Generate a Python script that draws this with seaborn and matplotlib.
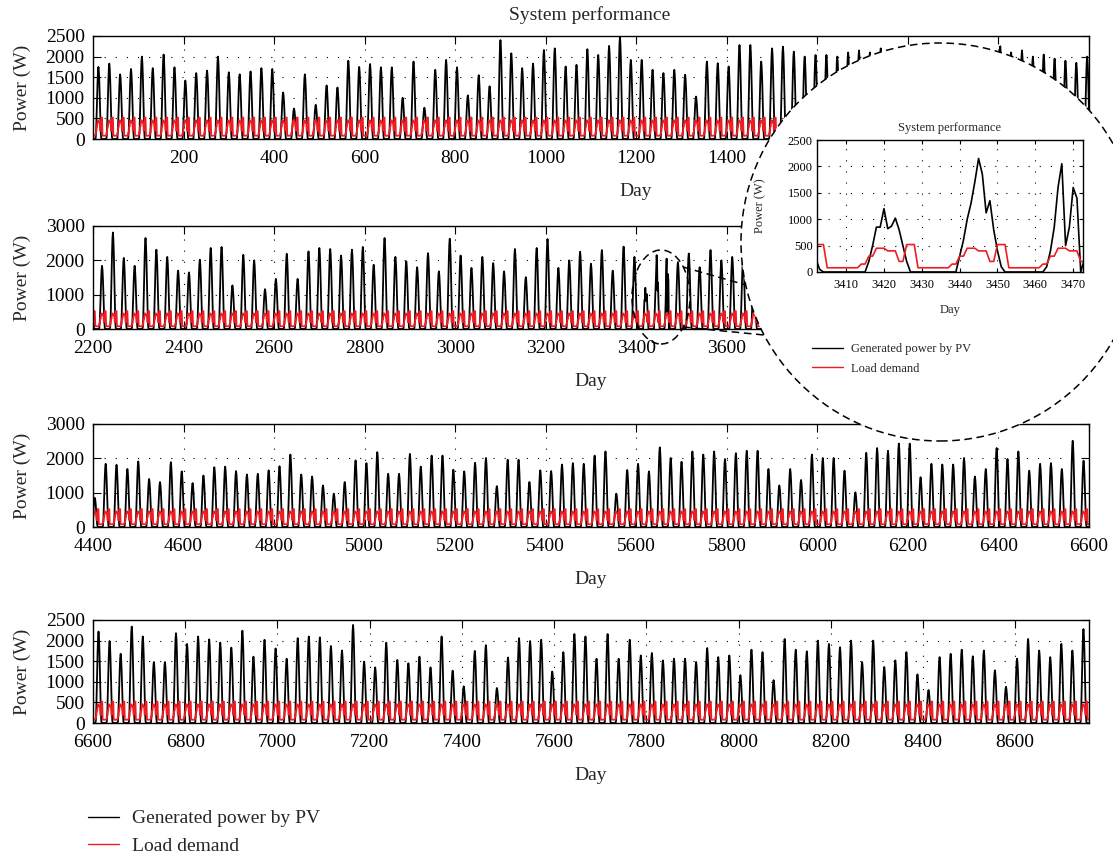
import numpy as np
import pandas as pd
import matplotlib
matplotlib.use("Agg")
import matplotlib.pyplot as plt
from matplotlib.patches import Ellipse
from matplotlib.lines import Line2D
import seaborn as sns

# Daily PV peaks (W), one value per day
peaks_p1 = [1750, 1830, 1570, 1700, 2000, 1720, 2050, 1740, 1420, 1600,
            1660, 2000, 1620, 1570, 1640, 1720, 1700, 1130, 740, 1570,
            830, 1300, 1250, 1900, 1750, 1820, 1740, 1740, 1000, 1880,
            760, 1680, 1920, 1740, 1060, 1550, 1280, 2400, 2080, 1720,
            1830, 2160, 2200,
            1760, 1800, 2180, 2040, 2260, 2480, 1920, 1920, 1680, 1600,
            1680, 1560, 1030, 1880, 1840, 1760, 2280, 2280, 1880, 2200,
            2240, 2120, 2000, 2040, 2040, 2000, 2100, 2150, 2100, 2200,
            2000, 2100, 2200, 2050, 2150, 2300, 2100, 2000, 2200, 2050,
            2250, 2100, 2150, 2000, 2050, 1950, 1900, 1850, 2000]
peaks_p2 = [1840, 2810, 2070, 1840, 2650, 2310, 2100, 1700, 1650, 2020,
            2360, 2390, 1270, 2160, 2000, 1160, 1460, 2190, 1460, 2260,
            2360, 2330, 2140, 2310, 2390, 1870, 2650, 2100, 1970, 1800,
            2210, 1680, 2630, 2140, 1780, 2100, 1920, 1680, 2330, 1510,
            2360, 2620, 1780,
            2000, 2250, 1900, 2300, 1700, 2400, 2100, 1200, 2150, 2050,
            1950, 2200, 1800, 2300, 2000, 2100,
            2050, 1850, 2250, 1950, 2150, 1700, 2300, 2000, 1900, 2200,
            1800, 2100, 2350, 1950, 1600, 2200, 2050, 1900, 2250, 1750,
            2100, 2000, 2300, 1850, 1950, 2150, 1700, 2050, 2200, 1900,
            2000, 2100, 850]
peaks_p3 = [1840, 1810, 1690, 1910, 1400, 1310, 1890, 1620, 1280, 1500,
            1740, 1760, 1630, 1530, 1550, 1650, 1770, 2110, 1530, 1470,
            1210, 970, 1310, 1940, 1860, 2180, 1550, 1550, 2130, 1760,
            2080, 2080, 1670, 1620, 1870, 2010, 1190, 1960, 1960, 1310,
            1650, 1630,
            1820, 1860, 1840, 2080, 2200, 970, 1660, 1840, 1620, 2320,
            2010, 1900, 2200, 2110, 2200, 1980, 2150, 2220, 2220, 1690,
            1210, 1690, 1370, 2110, 2010, 2010, 1640, 1010, 2160, 2300,
            2220, 2430, 2430, 1450, 1840, 1820, 1820, 2010, 1470, 1690,
            2300, 1980, 2200, 1640, 1840, 1860, 1690, 2510, 1930]
peaks_p4 = [2220, 1990, 1680, 2340, 2100, 1480, 1480, 2180, 1920, 2100,
            2030, 1950, 1830, 2240, 1610, 2020, 1810, 1560, 2060, 2100,
            2080, 1870, 1760, 2380, 1490, 1350, 1950, 1530, 1450, 1610,
            1350, 2100, 1270, 890, 1750, 1890, 850, 1590, 2060, 1990,
            2020, 1250,
            1720, 2160, 2100, 1560, 2160, 1560, 2020, 1640, 1700, 1520,
            1560, 1560, 1480, 1820, 1600, 1640, 1160, 1780, 1720, 1040,
            2040, 1780, 1740, 2000, 1920, 1840, 2000, 1480, 2000, 1360,
            1520, 1720, 1180, 800, 1600, 1680, 1780, 1620, 1760, 1280,
            880, 1560, 2040, 1760, 1600, 1920, 1760, 2280]

# hourly fraction of the daily peak (hour 0..23)
pv_shape = [0, 0, 0, 0, 0, 0, 0.02, 0.12, 0.32, 0.55, 0.78, 0.94,
            1.0, 0.93, 0.78, 0.55, 0.32, 0.12, 0.02, 0, 0, 0, 0, 0]
# hourly load demand (W), hour 0..23
load_day = [80, 80, 80, 80, 80, 80, 150, 150, 300, 300, 450, 450,
            450, 400, 400, 400, 200, 200, 520, 520, 520, 80, 80, 80]

# zoomed window, hours 3402..3472
zoom_start = 3402
zoom_pv = ([250, 50] + [0] * 12
           + [200, 500, 850, 850, 1200, 820, 870, 1020, 800, 500, 200]
           + [0] * 13
           + [300, 600, 1000, 1300, 1700, 2150, 1850, 1120, 1350, 800, 400, 100]
           + [0] * 11
           + [100, 400, 850, 1600, 2050, 500, 850, 1600, 1400]
           + [0])

peaks = np.array(peaks_p1 + peaks_p2 + peaks_p3 + peaks_p4, dtype=float)
hours = np.arange(len(peaks) * 24)
pv = np.repeat(peaks, 24) * np.tile(pv_shape, len(peaks))
pv[zoom_start:zoom_start + len(zoom_pv)] = zoom_pv
load = np.tile(load_day, len(peaks))
df = pd.DataFrame({"hour": hours, "pv": pv, "load": load})

RED = "#ee1d23"
W, H = 1113, 856

sns.set_theme(style="white")
plt.rcParams["font.family"] = ["Liberation Serif", "DejaVu Serif"]

fig = plt.figure(figsize=(W / 100, H / 100), dpi=100)


def draw_series(ax, seg, lw_pv, lw_load):
    sns.lineplot(data=seg, x="hour", y="pv", ax=ax, color="black",
                 linewidth=lw_pv, estimator=None, legend=False)
    sns.lineplot(data=seg, x="hour", y="load", ax=ax, color=RED,
                 linewidth=lw_load, estimator=None, legend=False)


def style(ax, size, tlen, xpad, ypad):
    ax.grid(True, color="black", linestyle=(0, (1, 9)), linewidth=0.8)
    ax.tick_params(axis="both", direction="in", top=True, right=True,
                   bottom=True, left=True, length=tlen, width=0.8,
                   colors="black", labelsize=size)
    ax.tick_params(axis="x", pad=xpad)
    ax.tick_params(axis="y", pad=ypad)
    for s in ax.spines.values():
        s.set_visible(True)
        s.set_color("black")
        s.set_linewidth(1.0)


# main panels: (xlim, xticks, yticks, bottom px)
panels = [
    ((0, 2200), range(200, 2201, 200), range(0, 2501, 500), 139),
    ((2200, 4400), range(2200, 4401, 200), range(0, 3001, 1000), 329),
    ((4400, 6600), range(4400, 6601, 200), range(0, 3001, 1000), 527),
    ((6600, 8760), range(6600, 8601, 200), range(0, 2501, 500), 723),
]
ax_left, ax_right, ax_h = 93, 1089, 103
for i, (xlim, xt, yt, bottom) in enumerate(panels):
    ax = fig.add_axes([ax_left / W, 1 - bottom / H,
                       (ax_right - ax_left) / W, ax_h / H])
    seg = df[(df.hour >= xlim[0] - 1) & (df.hour <= xlim[1] + 1)]
    draw_series(ax, seg, 1.3, 1.3)
    ax.set_xlim(*xlim)
    ax.set_ylim(yt[0], yt[-1])
    ax.set_xticks(list(xt))
    ax.set_yticks(list(yt))
    style(ax, 14, 6, 8, 6)
    ax.set_xlabel("Day", fontsize=14)
    ax.set_ylabel("Power (W)", fontsize=14)
    ax.xaxis.set_label_coords(0.545 if i == 0 else 0.5, -0.43)
    ax.yaxis.set_label_coords(-0.062, 0.5)

fig.text(590 / W, 1 - 15 / H, "System performance", ha="center",
         va="center", fontsize=14)

# magnifier: small ellipse in panel 2, big circle with the inset
dash = (0, (5, 3))
fig.add_artist(Ellipse((661 / W, 1 - 297 / H), 58 / W, 94 / H,
                       transform=fig.transFigure, facecolor="none",
                       edgecolor="black", linestyle=dash, linewidth=1.1,
                       zorder=2))
for (x1, y1), (x2, y2) in [((683, 267), (746, 285)),
                           ((683, 327), (764, 335))]:
    fig.add_artist(Line2D([x1 / W, x2 / W], [1 - y1 / H, 1 - y2 / H],
                          transform=fig.transFigure, color="black",
                          linestyle=dash, linewidth=1.1, zorder=2))
fig.add_artist(Ellipse((940 / W, 1 - 242 / H), 398 / W, 398 / H,
                       transform=fig.transFigure, facecolor="white",
                       edgecolor="black", linestyle=dash, linewidth=1.1,
                       zorder=2))

ins = fig.add_axes([817 / W, 1 - 272 / H, 266 / W, 132 / H], zorder=3)
seg = df[(df.hour >= 3400) & (df.hour <= 3475)]
draw_series(ins, seg, 1.2, 1.2)
ins.set_xlim(3402.3, 3472.6)
ins.set_ylim(0, 2500)
ins.set_xticks(range(3410, 3471, 10))
ins.set_yticks(range(0, 2501, 500))
style(ins, 9, 3, 5, 3)
ins.set_xlabel("Day", fontsize=9)
ins.set_ylabel("Power (W)", fontsize=9)
ins.xaxis.set_label_coords(0.5, -0.24)
ins.yaxis.set_label_coords(-0.19, 0.5)
fig.text(950 / W, 1 - 128 / H, "System performance", ha="center",
         va="center", fontsize=9, zorder=4)

handles = [Line2D([], [], color="black", linewidth=1.0),
           Line2D([], [], color=RED, linewidth=1.0)]
labels = ["Generated power by PV", "Load demand"]
fig.legend(handles, labels, loc="upper left",
           bbox_to_anchor=(80 / W, 1 - 802 / H), frameon=False, fontsize=14,
           handlelength=1.6, handletextpad=0.65, labelspacing=0.5,
           borderaxespad=0)
fig.legend(handles, labels, loc="upper left",
           bbox_to_anchor=(807 / W, 1 - 338 / H), frameon=False, fontsize=9,
           handlelength=2.5, handletextpad=0.6, labelspacing=0.6,
           borderaxespad=0)

fig.savefig("out.png", dpi=100)
